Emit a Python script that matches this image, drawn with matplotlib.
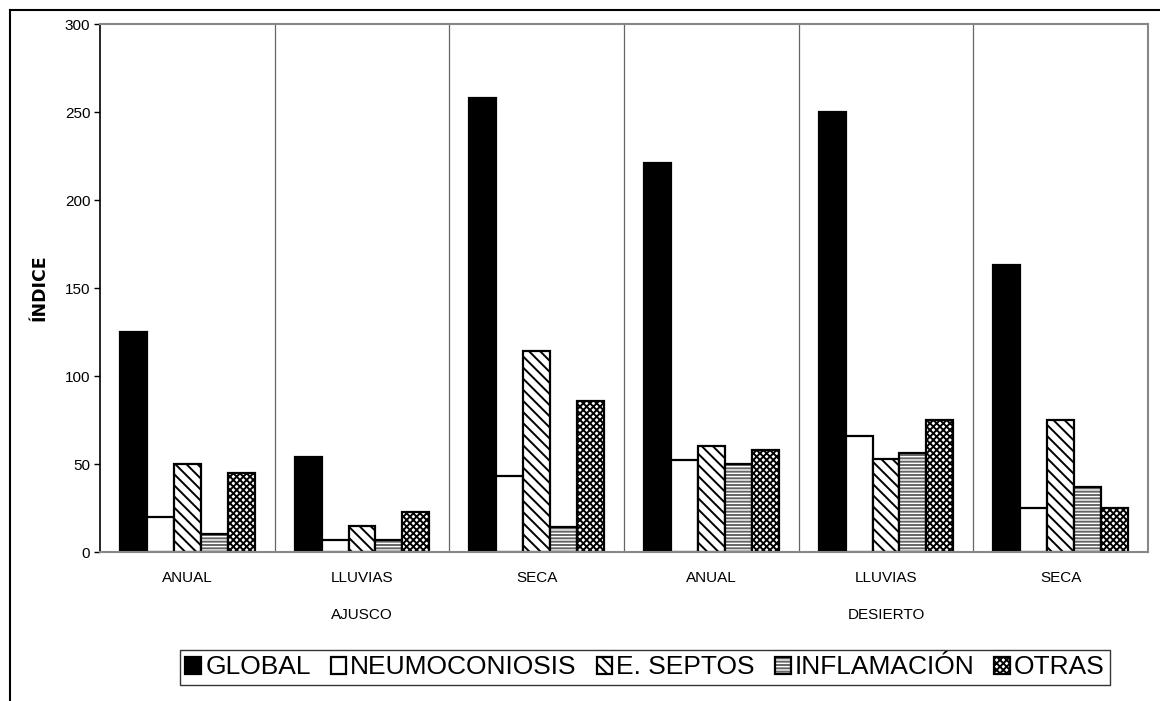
import numpy as np
import matplotlib
matplotlib.use('Agg')
import matplotlib.pyplot as plt
from matplotlib.lines import Line2D

plt.rcParams['font.family'] = ['Liberation Sans', 'DejaVu Sans']
plt.rcParams['hatch.linewidth'] = 1.4

# datos
periodos = ['ANUAL', 'LLUVIAS', 'SECA', 'ANUAL', 'LLUVIAS', 'SECA']
zonas = ['AJUSCO', 'DESIERTO']
series = ['GLOBAL', 'NEUMOCONIOSIS', 'E. SEPTOS', 'INFLAMACIÓN', 'OTRAS']

global_ = [125, 54, 258, 221, 250, 163]
neumoconiosis = [20, 7, 43, 52, 66, 25]
septos = [50, 15, 114, 60, 53, 75]
inflamacion = [10, 7, 14, 50, 56, 37]
otras = [45, 23, 86, 58, 75, 25]

valores = [global_, neumoconiosis, septos, inflamacion, otras]
rellenos = ['black', 'white', 'white', 'white', 'white']
tramas = [None, None, '\\\\\\', '-----', 'xxxxx']
color_trama = ['black', 'black', 'black', '#666666', 'black']

fig = plt.figure(figsize=(11.6, 7.01), dpi=100)
ax = fig.add_axes([100 / 1160, 149 / 701, 1048 / 1160, 528 / 701])

x = np.arange(len(periodos))
w = 1 / 6.5
handles = []
for i, vals in enumerate(valores):
    # primero la trama, luego el contorno negro encima
    b1 = ax.bar(x + (i - 2) * w, vals, w, color=rellenos[i], edgecolor=color_trama[i],
                linewidth=0, hatch=tramas[i])
    b2 = ax.bar(x + (i - 2) * w, vals, w, fill=False, edgecolor='black', linewidth=1.6)
    handles.append((b1, b2))

# separadores entre categorias
for s in np.arange(0.5, 5.5, 1):
    ax.axvline(s, color='#666666', linewidth=0.9, zorder=0)

ax.set_xlim(-0.5, 5.5)
ax.set_ylim(0, 300)
ax.set_yticks(range(0, 301, 50))
ax.set_xticks(x)
ax.set_xticklabels(periodos, fontsize=11)
ax.tick_params(axis='x', length=0, pad=14)
ax.tick_params(axis='y', length=4, width=1, labelsize=11, pad=3)
ax.set_ylabel('ÍNDICE', fontsize=12.5, family='DejaVu Sans', fontweight='bold', labelpad=12)

for s in ['top', 'right', 'bottom']:
    ax.spines[s].set_color('#888888')
    ax.spines[s].set_linewidth(1.5)
ax.spines['left'].set_linewidth(1.2)

# nivel de zona
ax.text(1, -0.12, zonas[0], transform=ax.get_xaxis_transform(), ha='center', va='center', fontsize=11)
ax.text(4, -0.12, zonas[1], transform=ax.get_xaxis_transform(), ha='center', va='center', fontsize=11)

leg = fig.legend(handles, series, loc='center', bbox_to_anchor=(645 / 1160, 1 - 667.5 / 701), ncol=5,
                 fontsize=19, frameon=True, fancybox=False, handlelength=0.6,
                 handleheight=0.6, handletextpad=0.15, columnspacing=0.75,
                 borderpad=0.22, borderaxespad=0)
leg.get_frame().set_edgecolor('black')
leg.get_frame().set_linewidth(1.0)

# marco exterior
fig.add_artist(Line2D([10 / 1160, 1], [1 - 10 / 701, 1 - 10 / 701], color='black', linewidth=1.5))
fig.add_artist(Line2D([10 / 1160, 10 / 1160], [0, 1 - 10 / 701], color='black', linewidth=1.5))

fig.savefig('out.png', dpi=100)
